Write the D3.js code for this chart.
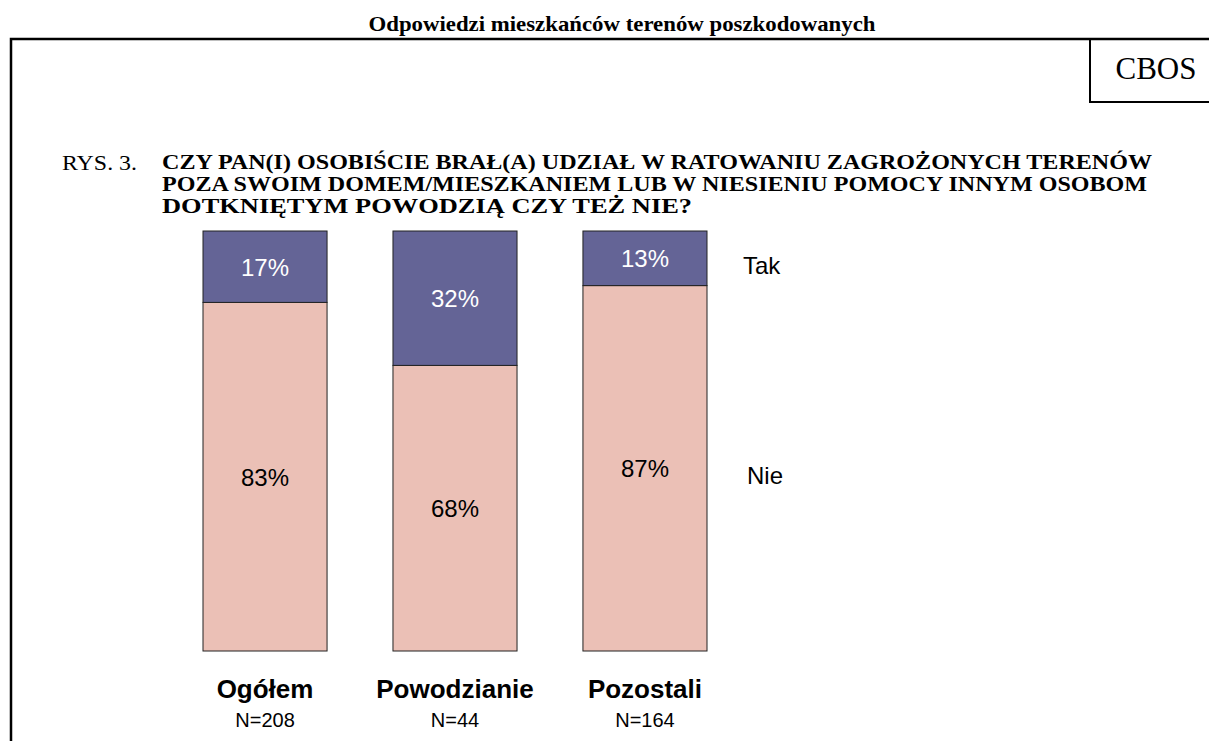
<!DOCTYPE html>
<html>
<head>
<meta charset="utf-8">
<script src="https://cdn.jsdelivr.net/npm/d3@7"></script>
<style>
  body { margin: 0; background: #fff; }
</style>
</head>
<body>
<script>
var w = 1209;
var h = 741;

// categories and values (percent)
var categories = ["Ogółem", "Powodzianie", "Pozostali"];
var sampleSizes = ["N=208", "N=44", "N=164"];
var nie = [83, 68, 87];
var tak = [17, 32, 13];
var seriesNames = ["Nie", "Tak"];

var dataset = categories.map(function(c, i){
    return { cat: c, Nie: nie[i], Tak: tak[i] };
});

var serif = "Liberation Serif, Times New Roman, serif";
var sans = "Liberation Sans, Arial, sans-serif";

var svg = d3.select("body")
    .append("svg")
    .attr("width", w)
    .attr("height", h);

// page frame
svg.append("path")
    .attr("d", "M11,741 V39 H1209")
    .attr("fill", "none")
    .attr("stroke", "#000")
    .attr("stroke-width", 2.5);

svg.append("path")
    .attr("d", "M1090,39 V102 H1209")
    .attr("fill", "none")
    .attr("stroke", "#000")
    .attr("stroke-width", 2);

svg.append("text")
    .attr("x", 1156).attr("y", 79)
    .attr("text-anchor", "middle")
    .style("font-family", serif)
    .style("font-size", "31px")
    .text("CBOS");

svg.append("text")
    .attr("x", 622).attr("y", 31)
    .attr("text-anchor", "middle")
    .style("font-family", serif)
    .style("font-size", "21px")
    .style("font-weight", "bold")
    .attr("textLength", 507)
    .attr("lengthAdjust", "spacingAndGlyphs")
    .text("Odpowiedzi mieszkańców terenów poszkodowanych");

svg.append("text")
    .attr("x", 62).attr("y", 170)
    .style("font-family", serif)
    .style("font-size", "21px")
    .attr("textLength", 75)
    .attr("lengthAdjust", "spacingAndGlyphs")
    .text("RYS. 3.");

var question = [
    "CZY PAN(I) OSOBIŚCIE BRAŁ(A) UDZIAŁ W RATOWANIU ZAGROŻONYCH TERENÓW",
    "POZA SWOIM DOMEM/MIESZKANIEM LUB W NIESIENIU POMOCY INNYM OSOBOM",
    "DOTKNIĘTYM POWODZIĄ CZY TEŻ NIE?"
];
var questionWidths = [990, 985, 530];
var qText = svg.append("g")
    .style("font-family", serif)
    .style("font-size", "21px")
    .style("font-weight", "bold");

qText.selectAll("text")
    .data(question)
    .enter()
    .append("text")
    .attr("x", 162)
    .attr("y", function(d, i){ return 169 + i * 22; })
    .attr("textLength", function(d, i){ return questionWidths[i]; })
    .attr("lengthAdjust", "spacingAndGlyphs")
    .text(function(d){ return d; });

// scales
var xScale = d3.scaleBand()
    .domain(categories)
    .range([203, 707])
    .paddingInner(0.347)
    .paddingOuter(0);

var yScale = d3.scaleLinear()
    .domain([0, 100])
    .range([651, 231]);

var color = d3.scaleOrdinal()
    .domain(seriesNames)
    .range(["#ebc0b6", "#646496"]);

var series = d3.stack().keys(seriesNames)(dataset);

var groups = svg.selectAll("g.series")
    .data(series)
    .enter()
    .append("g")
    .attr("class", "series")
    .style("fill", function(d){ return color(d.key); });

groups.selectAll("rect")
    .data(function(d){ return d; })
    .enter()
    .append("rect")
    .attr("x", function(d){ return xScale(d.data.cat); })
    .attr("y", function(d){ return yScale(d[1]); })
    .attr("height", function(d){ return yScale(d[0]) - yScale(d[1]); })
    .attr("width", xScale.bandwidth())
    .attr("stroke", "#222")
    .attr("stroke-width", 1);

// value labels
groups.selectAll("text")
    .data(function(d){ return d.map(function(v){ v.key = d.key; return v; }); })
    .enter()
    .append("text")
    .attr("x", function(d){ return xScale(d.data.cat) + xScale.bandwidth() / 2; })
    .attr("y", function(d){ return (yScale(d[0]) + yScale(d[1])) / 2 + 9; })
    .attr("text-anchor", "middle")
    .style("font-family", sans)
    .style("font-size", "24px")
    .style("fill", function(d){ return d.key === "Tak" ? "#fff" : "#000"; })
    .text(function(d){ return (d[1] - d[0]) + "%"; });

// series labels at the right
svg.selectAll("text.legend")
    .data(series)
    .enter()
    .append("text")
    .attr("class", "legend")
    .attr("x", function(d){ return d.key === "Tak" ? 743 : 747; })
    .attr("y", function(d){ return (yScale(d[0][0]) + yScale(d[0][1])) / 2 + 7; })
    .style("font-family", sans)
    .style("font-size", "24px")
    .text(function(d){ return d.key; });

// category labels
svg.selectAll("text.cat")
    .data(categories)
    .enter()
    .append("text")
    .attr("class", "cat")
    .attr("x", function(d){ return xScale(d) + xScale.bandwidth() / 2; })
    .attr("y", 698)
    .attr("text-anchor", "middle")
    .style("font-family", sans)
    .style("font-size", "26px")
    .style("font-weight", "bold")
    .text(function(d){ return d; });

svg.selectAll("text.n")
    .data(sampleSizes)
    .enter()
    .append("text")
    .attr("class", "n")
    .attr("x", function(d, i){ return xScale(categories[i]) + xScale.bandwidth() / 2; })
    .attr("y", 727)
    .attr("text-anchor", "middle")
    .style("font-family", sans)
    .style("font-size", "20px")
    .text(function(d){ return d; });
</script>
</body>
</html>
